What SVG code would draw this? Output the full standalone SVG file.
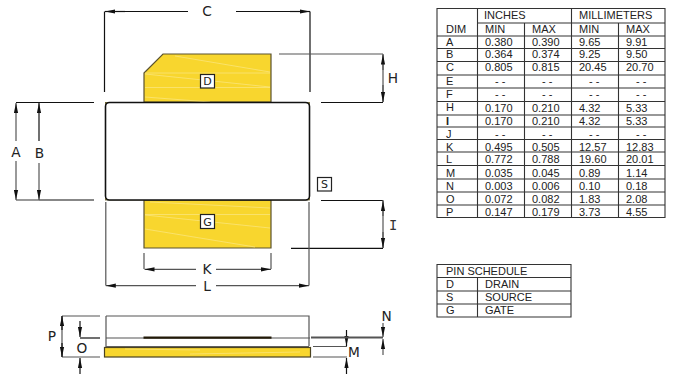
<svg xmlns="http://www.w3.org/2000/svg" width="676" height="374" viewBox="0 0 676 374">
<style>
.l{font:13.7px "DejaVu Sans",sans-serif;fill:#222;text-anchor:middle}
.m{font:13.7px "DejaVu Sans Mono",monospace;fill:#333;text-anchor:middle}
.b{font:11px "DejaVu Sans",sans-serif;fill:#222;text-anchor:middle}
.t{font:11px "Liberation Sans",Arial,sans-serif;fill:#222}
.y{fill:#f8d62e;stroke:#5a5230;stroke-width:1.200}
.k{fill:none;stroke:#111;stroke-width:1.200}
.g{fill:none;stroke:#555;stroke-width:1.200}
.d{fill:none;stroke:#111;stroke-width:1.200;marker-end:url(#a)}
.e{fill:none;stroke:#555;stroke-width:1.200;marker-end:url(#a)}
.s{fill:none;stroke:#fbe684;stroke-width:.7}
.box{fill:#fff;stroke:#222;stroke-width:1.200}
.tb{fill:none;stroke:#333;stroke-width:1.100}
</style>
<defs><marker id="a" viewBox="0 0 10 5" refX="10" refY="2.500" markerWidth="10" markerHeight="5" markerUnits="userSpaceOnUse" orient="auto"><path d="M0 .4L10 2.500L0 4.600z" fill="#111"/></marker></defs>
<g id="package">
<path class="y" d="M144 73L163 54H271V102H144Z"/>
<path class="y" d="M144 200H271V248H144Z"/>
<path class="s" d="M145 73H270M145 87.500H270M145 74L270 87M175 56L270 72M145 97L210 102M145 214.500H270M145 215L270 228M145 229L255 247M150 202L270 208"/>
<rect x="105.500" y="102.500" width="204" height="97.500" fill="#f8d62e" stroke="#6a6030" stroke-width=".8"/>
<rect x="105.500" y="102.500" width="204" height="97.500" rx="4" fill="#fff" stroke="#111" stroke-width="1.600"/>
</g>
<g id="pin-d"><rect class="box" x="200.500" y="74.500" width="14" height="13.500"/><text class="b" x="207.500" y="85">D</text></g>
<g id="pin-g"><rect class="box" x="200.500" y="214.500" width="14" height="14"/><text class="b" x="207.500" y="225.500">G</text></g>
<g id="pin-s"><rect class="box" x="317.500" y="177.500" width="14" height="13.500"/><text class="b" x="324.500" y="188">S</text></g>
<g id="side-view">
<path class="g" d="M106 316H309V346M106 316V347"/>
<path class="g" d="M106 338H310"/>
<path d="M143.500 337.700H271.500" stroke="#221a08" stroke-width="2.200"/>
<path d="M106 346.500H309" stroke="#666" stroke-width="1"/>
<rect x="104.500" y="347.500" width="206" height="9.500" fill="#f8d62e" stroke="#4a4220" stroke-width="1.200"/>
<path class="s" d="M125 349L200 350M190 354L300 352"/>
</g>
<g id="connectors">
<path class="k" d="M188 11.500H105M236 11.500H310"/>
<path class="k" d="M104.500 92V11.500M310 92V11.500"/>
<path class="d" d="M125 11.500H105"/><path class="d" d="M290 11.500H310"/>
<path class="g" d="M279 54H383"/><path class="k" d="M321 102.500H383"/>
<path class="g" d="M383 54V102"/><path class="e" d="M383 70V54.500"/><path class="e" d="M383 85V102"/>
<path class="k" d="M321 200.500H383"/><path class="k" d="M291 248.300H383"/>
<path class="g" d="M383 200V248"/><path class="e" d="M383 216V201"/><path class="e" d="M383 232V248"/>
<path class="k" d="M16 102.500H94"/><path class="k" d="M39 200H94"/><path class="g" d="M16 200H39"/>
<path class="e" d="M16 141V103"/><path class="d" d="M39 141V103"/>
<path class="e" d="M16 161V200"/><path class="e" d="M39 163V200"/>
<path class="g" d="M105.800 202V285.500M309 202V285.500M144 253V269M271 253V269"/>
<path class="e" d="M196 269.300H144.500"/><path class="e" d="M216 269.300H271"/>
<path class="e" d="M196 285.700H105.800"/><path class="e" d="M216 285.700H309"/>
<path class="g" d="M62 316H100M62 357H100M62 316V357"/><path class="k" d="M80 338H100"/>
<path class="d" d="M62 330V316"/><path class="d" d="M62 343V357"/>
<path class="d" d="M80 321V337"/><path class="d" d="M80 374V358"/>
<path class="g" d="M313 346.500H347M313 357H347"/>
<path class="d" d="M346.500 330V346"/><path class="d" d="M346.500 374V358"/>
<path d="M311 337.500H383" stroke="#555" stroke-width="2.200"/>
<path class="e" d="M383 323V337"/><path class="e" d="M383 355V339"/>
</g>
<g id="dimension-labels">
<text class="l" x="207" y="16">C</text><text class="l" x="393" y="82.500">H</text><text class="m" x="393" y="230">I</text>
<text class="l" x="16" y="157">A</text><text class="l" x="39.500" y="157.500">B</text>
<text class="l" x="207" y="274">K</text><text class="l" x="207" y="291">L</text>
<text class="l" x="52" y="340.500">P</text><text class="l" x="82" y="353">O</text><text class="l" x="354" y="357">M</text><text class="l" x="386.500" y="321">N</text>
</g>
<g id="dimension-table">
<path class="tb" d="M437 8.500H665V217.500H437ZM477.500 8.500V217.500M571.500 8.500V217.500M524.500 23V217.500M618.500 23V217.500M477.500 23H665M437 36H665M437 48.500H665M437 61.500H665M437 75H665M437 88H665M437 101.500H665M437 115H665M437 127H665M437 139.500H665M437 152H665M437 165.500H665M437 179H665M437 192H665M437 205H665"/>
<g class="t">
<text x="484" y="19">INCHES</text><text x="579" y="19">MILLIMETERS</text>
<text x="446" y="33">DIM</text><text x="485" y="33">MIN</text><text x="532" y="33">MAX</text><text x="579" y="33">MIN</text><text x="626" y="33">MAX</text>
<text x="446" y="45.500">A</text><text x="485" y="45.500">0.380</text><text x="532" y="45.500">0.390</text><text x="579" y="45.500">9.65</text><text x="626" y="45.500">9.91</text>
<text x="446" y="58">B</text><text x="485" y="58">0.364</text><text x="532" y="58">0.374</text><text x="579" y="58">9.25</text><text x="626" y="58">9.50</text>
<text x="446" y="71">C</text><text x="485" y="71">0.805</text><text x="532" y="71">0.815</text><text x="579" y="71">20.45</text><text x="626" y="71">20.70</text>
<text x="446" y="85">E</text><text x="495" y="85">- -</text><text x="542" y="85">- -</text><text x="589" y="85">- -</text><text x="636" y="85">- -</text>
<text x="446" y="98">F</text><text x="495" y="98">- -</text><text x="542" y="98">- -</text><text x="589" y="98">- -</text><text x="636" y="98">- -</text>
<text x="446" y="111">H</text><text x="485" y="112">0.170</text><text x="532" y="112">0.210</text><text x="579" y="112">4.32</text><text x="626" y="112">5.33</text>
<text x="446" y="124.500" font-weight="bold">I</text><text x="485" y="124.500">0.170</text><text x="532" y="124.500">0.210</text><text x="579" y="124.500">4.32</text><text x="626" y="124.500">5.33</text>
<text x="446" y="138">J</text><text x="495" y="138">- -</text><text x="542" y="138">- -</text><text x="589" y="138">- -</text><text x="636" y="138">- -</text>
<text x="446" y="150.500">K</text><text x="485" y="150.500">0.495</text><text x="532" y="150.500">0.505</text><text x="579" y="150.500">12.57</text><text x="626" y="150.500">12.83</text>
<text x="446" y="163">L</text><text x="485" y="163">0.772</text><text x="532" y="163">0.788</text><text x="579" y="163">19.60</text><text x="626" y="163">20.01</text>
<text x="446" y="177">M</text><text x="485" y="177">0.035</text><text x="532" y="177">0.045</text><text x="579" y="177">0.89</text><text x="626" y="177">1.14</text>
<text x="446" y="190">N</text><text x="485" y="190">0.003</text><text x="532" y="190">0.006</text><text x="579" y="190">0.10</text><text x="626" y="190">0.18</text>
<text x="446" y="203">O</text><text x="485" y="203">0.072</text><text x="532" y="203">0.082</text><text x="579" y="203">1.83</text><text x="626" y="203">2.08</text>
<text x="446" y="215.500">P</text><text x="485" y="215.500">0.147</text><text x="532" y="215.500">0.179</text><text x="579" y="215.500">3.73</text><text x="626" y="215.500">4.55</text>
</g>
</g>
<g id="pin-schedule">
<path class="tb" d="M437 264.500H571V317H437ZM437 277.500H571M437 291H571M437 304H571M477.500 277.500V317"/>
<g class="t">
<text x="446" y="275">PIN SCHEDULE</text>
<text x="446" y="288">D</text><text x="485" y="288">DRAIN</text>
<text x="446" y="301">S</text><text x="485" y="301">SOURCE</text>
<text x="446" y="314">G</text><text x="485" y="314">GATE</text>
</g>
</g>
</svg>
